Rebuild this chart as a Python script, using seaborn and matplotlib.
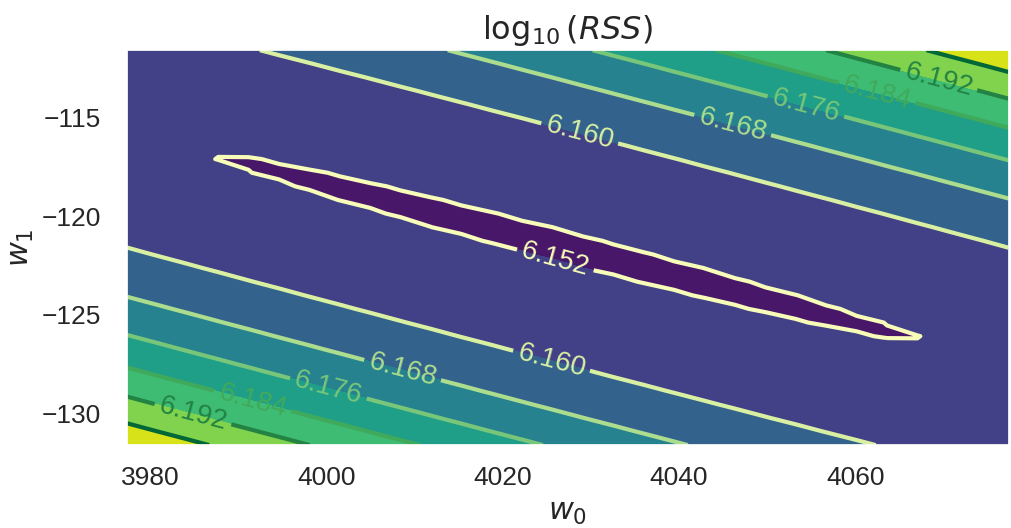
"""log10(RSS) contour over (w0, w1)."""

import matplotlib
matplotlib.use("Agg")
import matplotlib.pyplot as plt
import numpy as np
import seaborn as sns

# least-squares fit summary
W0_HAT = 4027.4
W1_HAT = -121.6
N_OBS = 10.75
X_MEAN = 8.29
X_VAR = 2.0
LOG_RSS_MIN = 6.151838

W0_SPAN = 50.0
W1_SPAN = 10.0
GRID_N = 30

LEVELS = [6.144, 6.152, 6.160, 6.168, 6.176, 6.184, 6.192, 6.200, 6.208]
X_TICKS = [3980, 4000, 4020, 4040, 4060]
Y_TICKS = [-115, -120, -125, -130]

# where the inline level labels sit (w0, w1)
LABEL_SPOTS = [
    (4025.9, -122.35),
    (4028.7, -115.9),
    (4025.4, -127.6),
    (4046.1, -115.4),
    (4054.5, -114.3),
    (4062.9, -113.1),
    (4069.6, -112.9),
    (4008.6, -127.9),
    (4000.2, -128.8),
    (3991.8, -129.1),
    (3985.0, -129.85),
]

sns.set_theme(style="dark")
plt.rcParams["font.family"] = ["Liberation Sans", "DejaVu Sans"]

w0 = np.linspace(W0_HAT - W0_SPAN, W0_HAT + W0_SPAN, GRID_N)
w1 = np.linspace(W1_HAT - W1_SPAN, W1_HAT + W1_SPAN, GRID_N)
W0, W1 = np.meshgrid(w0, w1)
d0 = W0 - W0_HAT
d1 = W1 - W1_HAT
rss = 10 ** LOG_RSS_MIN + N_OBS * ((d0 + X_MEAN * d1) ** 2 + X_VAR * d1 ** 2)
z = np.log10(rss)

fig = plt.figure(figsize=(10.11, 5.28), dpi=100)
ax = fig.add_axes([0.1256, 0.157, 0.872, 0.748])
ax.contourf(W0, W1, z, levels=LEVELS, cmap="viridis")
cs = ax.contour(W0, W1, z, levels=LEVELS, cmap="YlGn", linewidths=3)
ax.clabel(cs, inline=True, fontsize=20, fmt="%.3f", manual=LABEL_SPOTS)

ax.set_xticks(X_TICKS)
ax.set_yticks(Y_TICKS)
ax.tick_params(axis="x", labelsize=19, pad=9)
ax.tick_params(axis="y", labelsize=19, pad=13)
ax.set_xlabel(r"$w_0$", fontsize=22, labelpad=5)
ax.set_ylabel(r"$w_1$", fontsize=22, labelpad=4)
ax.set_title(r"$\log_{10}(RSS)$", fontsize=23, pad=8)

fig.savefig("out.png", dpi=100)
